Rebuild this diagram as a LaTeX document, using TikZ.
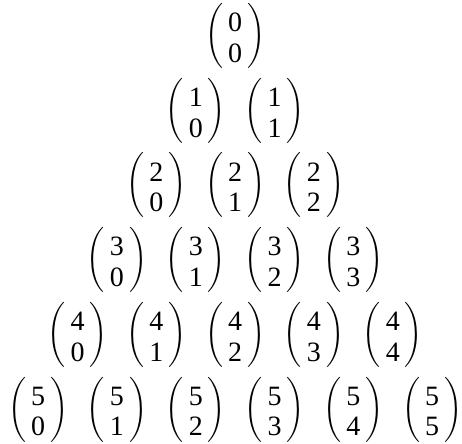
\documentclass[tikz,border=0pt]{standalone}
\usepackage{amsmath}
\usepackage{graphicx}
\usepackage{fontspec}
\setmainfont{Liberation Serif}
\usepackage{tikz}
\newcommand{\bnm}[2]{$\scalebox{0.85}[0.94]{$\biggl($}\vcenter{\hbox{\begin{tabular}{@{\kern2.5pt}c@{\kern2.5pt}}#1\\#2\end{tabular}}\kern-5.5pt}\scalebox{0.85}[0.94]{$\biggr)$}$}
\tikzset{
  pcoef/.style={inner sep=0pt, outer sep=0pt, font=\fontsize{14}{15.3}\selectfont},
}

\begin{document}
\begin{tikzpicture}[x=1pt, y=1pt]
\useasboundingbox (0,0) rectangle (231,222);
\node[pcoef] (c00) at (117.6,204.0) {\bnm{0}{0}};
\node[pcoef] (c10) at (97.9,166.65) {\bnm{1}{0}};
\node[pcoef] (c11) at (137.3,166.65) {\bnm{1}{1}};
\node[pcoef] (c20) at (78.2,129.30) {\bnm{2}{0}};
\node[pcoef] (c21) at (117.6,129.30) {\bnm{2}{1}};
\node[pcoef] (c22) at (157.0,129.30) {\bnm{2}{2}};
\node[pcoef] (c30) at (58.5,91.95) {\bnm{3}{0}};
\node[pcoef] (c31) at (97.9,91.95) {\bnm{3}{1}};
\node[pcoef] (c32) at (137.3,91.95) {\bnm{3}{2}};
\node[pcoef] (c33) at (176.7,91.95) {\bnm{3}{3}};
\node[pcoef] (c40) at (38.8,54.60) {\bnm{4}{0}};
\node[pcoef] (c41) at (78.2,54.60) {\bnm{4}{1}};
\node[pcoef] (c42) at (117.6,54.60) {\bnm{4}{2}};
\node[pcoef] (c43) at (157.0,54.60) {\bnm{4}{3}};
\node[pcoef] (c44) at (196.4,54.60) {\bnm{4}{4}};
\node[pcoef] (c50) at (19.1,17.25) {\bnm{5}{0}};
\node[pcoef] (c51) at (58.5,17.25) {\bnm{5}{1}};
\node[pcoef] (c52) at (97.9,17.25) {\bnm{5}{2}};
\node[pcoef] (c53) at (137.3,17.25) {\bnm{5}{3}};
\node[pcoef] (c54) at (176.7,17.25) {\bnm{5}{4}};
\node[pcoef] (c55) at (216.1,17.25) {\bnm{5}{5}};
\end{tikzpicture}
\end{document}
